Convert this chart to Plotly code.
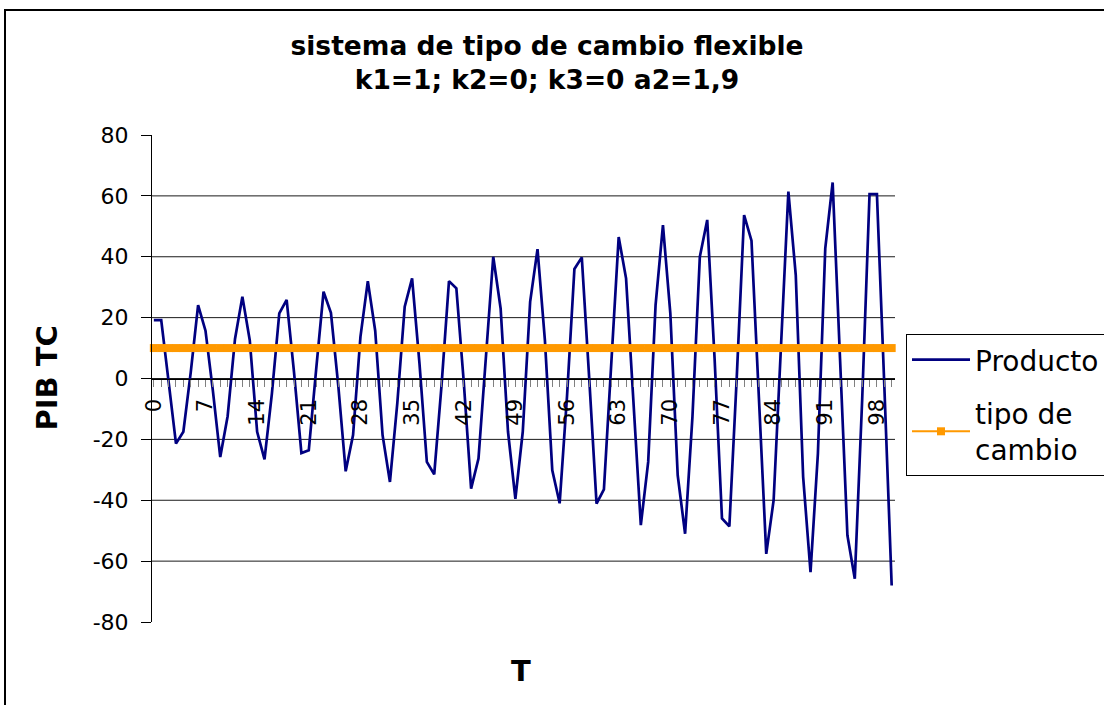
import plotly.graph_objects as go

# ---- data ----
T = [0, 1, 2, 3, 4, 5, 6, 7, 8, 9,
     10, 11, 12, 13, 14, 15, 16, 17, 18, 19,
     20, 21, 22, 23, 24, 25, 26, 27, 28, 29,
     30, 31, 32, 33, 34, 35, 36, 37, 38, 39,
     40, 41, 42, 43, 44, 45, 46, 47, 48, 49,
     50, 51, 52, 53, 54, 55, 56, 57, 58, 59,
     60, 61, 62, 63, 64, 65, 66, 67, 68, 69,
     70, 71, 72, 73, 74, 75, 76, 77, 78, 79,
     80, 81, 82, 83, 84, 85, 86, 87, 88, 89,
     90, 91, 92, 93, 94, 95, 96, 97, 98, 99,
     100]

producto = [19.2, 19.2, -1, -21.4, -17.5, 2, 24.1, 15.7, -4, -25.8,
            -12.4, 13, 26.9, 12.6, -17.5, -26.6, -5, 21.4, 25.8, 2,
            -24.5, -23.6, 3, 28.5, 21.6, -2.4, -30.5, -18.6, 13.7, 32,
            15.7, -18.6, -34, -8, 23.6, 32.9, 5, -27.4, -31.5, -2,
            32, 29.6, -1, -36.2, -26.3, 6, 40, 23, -17.5, -39.5,
            -17.5, 25.2, 42.5, 12.6, -30.2, -41, -5.8, 36, 39.8, 0.3,
            -41.1, -36.4, 4.5, 46.5, 32.9, -6.7, -48.2, -27.4, 24.1, 50.4,
            21.4, -31.8, -51, -12.5, 40, 52.1, 6.5, -46, -48.6, 0.2,
            53.7, 45.3, -5, -57.6, -40, 9.5, 61.4, 34, -32.3, -63.6,
            -24.7, 42.8, 64.4, 6.5, -51.5, -65.8, -7, 60.6, 60.6, -2.2,
            -68]

tipo_de_cambio = [10, 10, 10, 10, 10, 10, 10, 10, 10, 10,
                  10, 10, 10, 10, 10, 10, 10, 10, 10, 10,
                  10, 10, 10, 10, 10, 10, 10, 10, 10, 10,
                  10, 10, 10, 10, 10, 10, 10, 10, 10, 10,
                  10, 10, 10, 10, 10, 10, 10, 10, 10, 10,
                  10, 10, 10, 10, 10, 10, 10, 10, 10, 10,
                  10, 10, 10, 10, 10, 10, 10, 10, 10, 10,
                  10, 10, 10, 10, 10, 10, 10, 10, 10, 10,
                  10, 10, 10, 10, 10, 10, 10, 10, 10, 10,
                  10, 10, 10, 10, 10, 10, 10, 10, 10, 10,
                  10]

x_ticks = [0, 7, 14, 21, 28, 35, 42, 49, 56, 63, 70, 77, 84, 91, 98]
y_ticks = [-80, -60, -40, -20, 0, 20, 40, 60, 80]
y_tick_labels = ["-80", "-60", "-40", "-20", "0", "20", "40", "60", "80"]
y_grid = [-60, -40, -20, 0, 20, 40, 60]

title_text = "sistema de tipo de cambio flexible<br>k1=1; k2=0; k3=0 a2=1,9"

# ---- layout geometry ----
W, H = 1104, 705
L, R, TOP, BOT = 152, 895, 135, 622
PW, PH = R - L, BOT - TOP
FONT = "DejaVu Sans"

fig = go.Figure()
fig.add_trace(go.Scatter(
    x=T, y=producto, mode="lines", name="Producto", legendgroup="a",
    line=dict(color="#000080", width=2.7), cliponaxis=False))
fig.add_trace(go.Scatter(
    x=T, y=tipo_de_cambio, mode="lines+markers", name="tipo de<br>cambio",
    legendgroup="b",
    line=dict(color="#FF9900", width=2),
    marker=dict(symbol="square", size=8, color="#FF9900", line=dict(width=0)),
    cliponaxis=False))

shapes = []
for g in y_grid:
    shapes.append(dict(type="line", xref="paper", x0=0, x1=1, yref="y", y0=g, y1=g,
                       line=dict(color="#1a1a1a", width=1), layer="below"))
# outer chart border
shapes.append(dict(type="rect", xref="paper", yref="paper",
                   x0=(5 - L) / PW, x1=(1112 - L) / PW,
                   y0=(BOT - 715) / PH, y1=(BOT - 10) / PH,
                   line=dict(color="black", width=2), fillcolor="rgba(0,0,0,0)"))

fig.update_layout(
    width=W, height=H,
    margin=dict(l=L, r=W - R, t=TOP, b=H - BOT, pad=0, autoexpand=False),
    paper_bgcolor="white", plot_bgcolor="white",
    font=dict(family=FONT, color="black"),
    title=dict(text=title_text, xref="container", yref="container",
               x=547 / W, xanchor="center", y=1 - 55 / H, yanchor="top",
               font=dict(family=FONT, size=26.5, weight="bold", color="black")),
    xaxis=dict(range=[-0.25, 100.45], anchor="free", position=0.5,
               showline=True, linecolor="black", linewidth=1,
               ticks="outside", ticklen=7, tickcolor="#808080", tickwidth=1,
               tickmode="array", tickvals=x_ticks, tickangle=-90,
               tickfont=dict(family=FONT, size=21, color="black"),
               ticklabelstandoff=4,
               minor=dict(tickmode="linear", tick0=0, dtick=1, ticks="outside",
                          ticklen=7, tickcolor="#808080", tickwidth=1, showgrid=False),
               showgrid=False, zeroline=False),
    yaxis=dict(range=[-80, 80], tickmode="array", tickvals=y_ticks,
               ticktext=y_tick_labels,
               showline=True, linecolor="black", linewidth=1,
               ticks="outside", ticklen=10, tickcolor="black",
               tickfont=dict(family=FONT, size=22, color="black"),
               ticklabelstandoff=8,
               showgrid=False, zeroline=False),
    legend=dict(x=(906 - L) / PW, y=(BOT - 334) / PH, xanchor="left", yanchor="top",
                bordercolor="black", borderwidth=1, bgcolor="white",
                font=dict(family=FONT, size=28, color="black"),
                traceorder="grouped", tracegroupgap=14,
                itemwidth=58),
    shapes=shapes,
    annotations=[
        dict(text="PIB TC", xref="paper", yref="paper", x=0, y=0.5,
             xshift=46 - L, xanchor="center", yanchor="middle", textangle=-90,
             showarrow=False, font=dict(family=FONT, size=29, weight="bold", color="black")),
        dict(text="T", xref="paper", yref="paper", x=(521 - L) / PW, y=0,
             yshift=-(671 - BOT), xanchor="center", yanchor="middle",
             showarrow=False, font=dict(family=FONT, size=29, weight="bold", color="black")),
    ],
)

fig.write_html("out.html")
